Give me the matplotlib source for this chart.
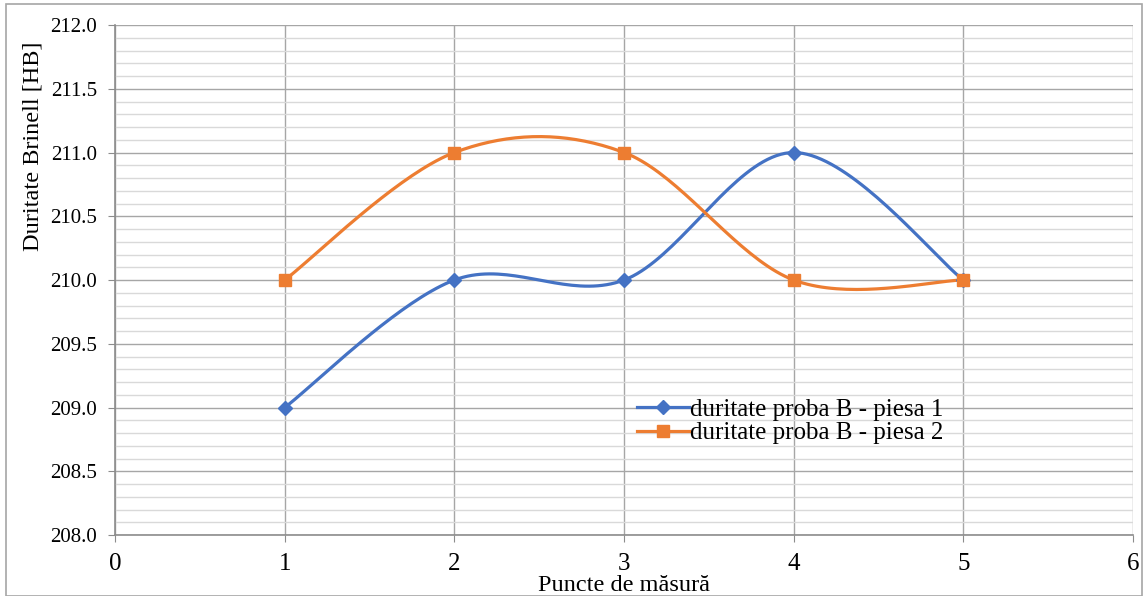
import matplotlib
matplotlib.use('Agg')
import matplotlib.pyplot as plt
from matplotlib.patches import Rectangle
import numpy as np

plt.rcParams['font.family'] = 'serif'
plt.rcParams['font.serif'] = ['Liberation Serif', 'DejaVu Serif']

points = [1, 2, 3, 4, 5]
piesa1 = [209.0, 210.0, 210.0, 211.0, 210.0]
piesa2 = [210.0, 211.0, 211.0, 210.0, 210.0]
labels = ['duritate proba B - piesa 1', 'duritate proba B - piesa 2']
colors = ['#4472C4', '#ED7D31']
markers = ['D', 's']


def smooth(x, y, n=40):
    # Excel-like smoothing: cubic Bezier with catmull-rom tangents
    x = np.asarray(x, float)
    y = np.asarray(y, float)
    xs, ys = [], []
    for i in range(len(x) - 1):
        i0 = max(i - 1, 0)
        i3 = min(i + 2, len(x) - 1)
        p0 = np.array([x[i0], y[i0]])
        p1 = np.array([x[i], y[i]])
        p2 = np.array([x[i + 1], y[i + 1]])
        p3 = np.array([x[i3], y[i3]])
        c1 = p1 + (p2 - p0) / 6
        c2 = p2 - (p3 - p1) / 6
        t = np.linspace(0, 1, n)[:, None]
        b = ((1 - t) ** 3) * p1 + 3 * ((1 - t) ** 2) * t * c1 + 3 * (1 - t) * t ** 2 * c2 + t ** 3 * p2
        xs.append(b[:, 0])
        ys.append(b[:, 1])
    return np.concatenate(xs), np.concatenate(ys)


fig = plt.figure(figsize=(11.48, 5.96), dpi=100)
ax = fig.add_axes([0.1002, 0.1023, 0.8868, 0.8557])

for yv, lab, c, m in zip([piesa1, piesa2], labels, colors, markers):
    sx, sy = smooth(points, yv)
    ms = 7 if m == 'D' else 8
    ax.plot(sx, sy, color=c, lw=2.3, zorder=3)
    ax.plot(points, yv, ls='none', marker=m, color=c, ms=ms, zorder=4)
    ax.plot([], [], color=c, lw=2.3, marker=m, ms=ms, label=lab)

ax.set_xlim(0, 6)
ax.set_ylim(208, 212)
ax.set_xticks(range(0, 7))
ax.set_yticks(np.arange(208, 212.01, 0.5))
ax.set_yticks(np.arange(208, 212.01, 0.1), minor=True)
ax.set_yticklabels(['%.1f' % v for v in np.arange(208, 212.01, 0.5)])
ax.grid(which='major', color='#a6a6a6', lw=1.0)
ax.grid(which='minor', axis='y', color='#d9d9d9', lw=1.0)
ax.set_axisbelow(True)
for s in ['top', 'right']:
    ax.spines[s].set_visible(False)
for s in ['left', 'bottom']:
    ax.spines[s].set_color('#8c8c8c')
    ax.spines[s].set_linewidth(1.2)
ax.tick_params(axis='y', which='major', length=5, color='#8c8c8c', labelsize=15, pad=8)
ax.tick_params(axis='y', which='minor', length=0)
ax.tick_params(axis='x', length=5, color='#8c8c8c', labelsize=18, pad=8)

ax.set_xlabel('Puncte de măsură', fontsize=17.5)
ax.xaxis.set_label_coords(0.5, -0.078)
ax.set_ylabel('Duritate Brinell [HB]', fontsize=17.5)
ax.yaxis.set_label_coords(-0.07, 0.763)

ax.legend(loc='upper left', bbox_to_anchor=(0.5, 0.293), frameon=False, fontsize=18,
          handlelength=2.1, handletextpad=0.05, borderpad=0, labelspacing=0.05)

fig.patches.append(Rectangle((0.005, 0.0), 0.99, 0.993, transform=fig.transFigure,
                             fill=False, edgecolor='#a6a6a6', lw=1.2))

fig.savefig('out.png', dpi=100)
